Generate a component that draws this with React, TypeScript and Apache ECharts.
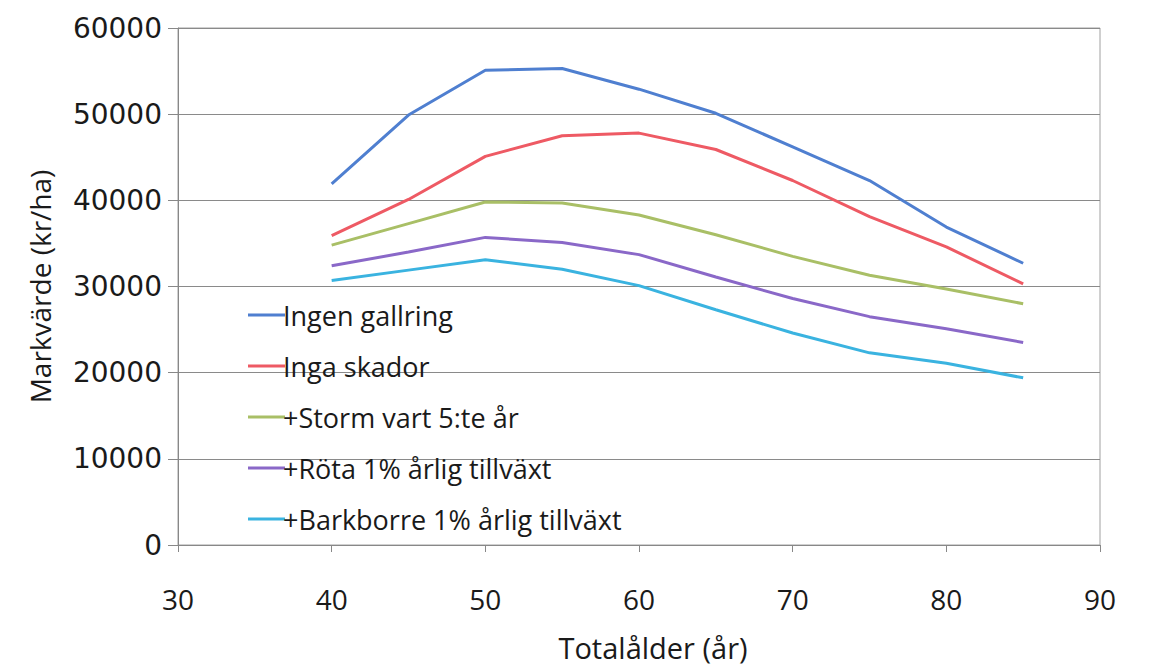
import React, { useEffect, useRef } from "react";
import * as echarts from "echarts";

const ages = [40, 45, 50, 55, 60, 65, 70, 75, 80, 85];
const seriesNames = [
  "Ingen gallring",
  "Inga skador",
  "+Storm vart 5:te år",
  "+Röta 1% årlig tillväxt",
  "+Barkborre 1% årlig tillväxt",
];
const ingenGallring = [41900, 49900, 55100, 55300, 52900, 50100, 46200, 42300, 36900, 32700];
const ingaSkador = [35900, 40100, 45100, 47500, 47800, 45900, 42300, 38100, 34600, 30300];
const storm = [34800, 37300, 39800, 39700, 38300, 36000, 33500, 31300, 29700, 28000];
const rota = [32400, 34000, 35700, 35100, 33700, 31100, 28600, 26500, 25100, 23500];
const barkborre = [30700, 31900, 33100, 32000, 30100, 27300, 24600, 22300, 21100, 19400];
const colors = ["#4f7fd0", "#ee5a64", "#a9bf66", "#8a68c8", "#3ab3e0"];

export default function App() {
  const ref = useRef<HTMLDivElement>(null);
  useEffect(() => {
    if (!ref.current) return;
    const chart = echarts.init(ref.current, undefined, { renderer: "svg" });
    const all = [ingenGallring, ingaSkador, storm, rota, barkborre];
    chart.setOption({
      animation: false,
      backgroundColor: "#ffffff",
      grid: {
        left: 178,
        right: 49,
        top: 28,
        bottom: 119,
        show: true,
        borderColor: "#a0a0a0",
        borderWidth: 1,
      },
      legend: {
        orient: "vertical",
        left: 243,
        top: 295,
        icon: "rect",
        itemWidth: 37,
        itemHeight: 3,
        itemGap: 21,
        data: seriesNames,
        textStyle: {
          fontFamily: "Open Sans",
          fontSize: 27,
          color: "#1a1a1a",
          lineHeight: 30,
          padding: [0, 0, 0, -7],
        },
      },
      xAxis: {
        type: "value",
        min: 30,
        max: 90,
        interval: 10,
        name: "Totalålder (år)",
        nameLocation: "middle",
        nameGap: 88,
        nameTextStyle: {
          fontFamily: "Open Sans",
          fontSize: 29,
          color: "#1a1a1a",
          padding: [0, 0, 0, 28],
        },
        axisLine: { show: true, lineStyle: { color: "#888888", width: 1 } },
        axisTick: { show: true, length: 7, lineStyle: { color: "#888888" } },
        axisLabel: { fontFamily: "Open Sans", fontSize: 28, color: "#1a1a1a", margin: 40 },
        splitLine: { show: false },
      },
      yAxis: {
        type: "value",
        min: 0,
        max: 60000,
        interval: 10000,
        name: "Markvärde (kr/ha)",
        nameLocation: "middle",
        nameGap: 124,
        nameTextStyle: { fontFamily: "Open Sans", fontSize: 28, color: "#1a1a1a" },
        axisLine: { show: true, lineStyle: { color: "#888888", width: 1 } },
        axisTick: { show: true, length: 10, lineStyle: { color: "#888888" } },
        axisLabel: {
          fontFamily: "DejaVu Sans",
          fontSize: 28,
          color: "#1a1a1a",
          margin: 16,
          formatter: (v: number) => String(v),
        },
        splitLine: { show: true, lineStyle: { color: "#8a8a8a", width: 1 } },
      },
      series: seriesNames.map((name, i) => ({
        name,
        type: "line",
        data: ages.map((a, j) => [a, all[i][j]]),
        showSymbol: false,
        symbol: "none",
        color: colors[i],
        lineStyle: { width: 3, color: colors[i] },
      })),
    });
    return () => chart.dispose();
  }, []);
  return (
    <div
      ref={ref}
      style={{ position: "fixed", left: 0, top: 0, width: 1149, height: 667 }}
    />
  );
}
